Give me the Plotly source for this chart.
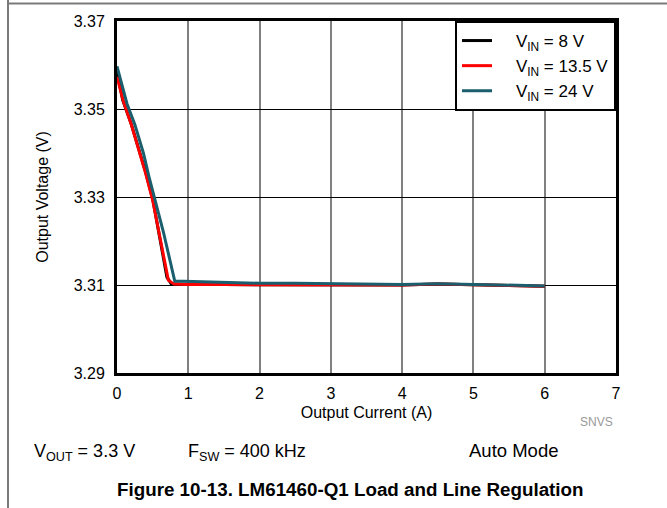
import plotly.graph_objects as go

# Data
x_8v = [0, 0.08, 0.2, 0.3, 0.4, 0.5, 0.6, 0.7, 0.76, 1, 1.5, 2, 2.5, 3, 3.5, 4, 4.5, 5, 5.5, 6]
y_8v = [3.3585, 3.3520, 3.3466, 3.3412, 3.3357, 3.3296, 3.3210, 3.3118, 3.3103, 3.3101, 3.3101, 3.3101, 3.3101, 3.3101, 3.3101, 3.3100, 3.3102, 3.3101, 3.3099, 3.3097]

x_135v = [0, 0.085, 0.2, 0.3, 0.4, 0.5, 0.6, 0.72, 0.8, 1, 1.5, 2, 2.5, 3, 3.5, 4, 4.5, 5, 5.5, 6]
y_135v = [3.3573, 3.3520, 3.3465, 3.3410, 3.3355, 3.3293, 3.3210, 3.3111, 3.3102, 3.3101, 3.3101, 3.3101, 3.3101, 3.3101, 3.3101, 3.3100, 3.3102, 3.3101, 3.3099, 3.3097]

x_24v = [0, 0.14, 0.25, 0.37, 0.45, 0.53, 0.65, 0.81, 1, 1.5, 2, 2.5, 3, 3.5, 4, 4.5, 5, 5.5, 6]
y_24v = [3.3597, 3.3512, 3.3465, 3.3400, 3.3345, 3.3293, 3.3221, 3.3109, 3.3108, 3.3106, 3.3104, 3.3104, 3.3103, 3.3103, 3.3101, 3.3103, 3.3101, 3.3099, 3.3098]

series_names = ["V<sub>IN</sub> = 8 V", "V<sub>IN</sub> = 13.5 V", "V<sub>IN</sub> = 24 V"]
series_colors = ["#000000", "#FF0000", "#1B5E6E"]

x_ticks = [0, 1, 2, 3, 4, 5, 6, 7]
y_ticks = [3.29, 3.31, 3.33, 3.35, 3.37]
y_tick_labels = ["3.29", "3.31", "3.33", "3.35", "3.37"]

FONT = "Liberation Sans, Arial, Helvetica, sans-serif"

fig = go.Figure()
for xs, ys, name, col in zip([x_8v, x_135v, x_24v], [y_8v, y_135v, y_24v], series_names, series_colors):
    fig.add_trace(go.Scatter(x=xs, y=ys, mode="lines", name="&nbsp;&nbsp;&nbsp;&nbsp;" + name,
                             line=dict(color=col, width=3)))

W, H = 667, 508
L, R, T, B = 117, 51, 21, 135
pw, ph = W - L - R, H - T - B

def px(xp):
    return (xp - L) / pw

def py(yp):
    return 1 - (yp - T) / ph

fig.update_layout(
    width=W, height=H,
    margin=dict(l=L, r=R, t=T, b=B),
    paper_bgcolor="white", plot_bgcolor="white",
    font=dict(family=FONT, size=16, color="black"),
    showlegend=True,
    legend=dict(x=1, y=1, xanchor="right", yanchor="top",
                bgcolor="white", bordercolor="black", borderwidth=2,
                font=dict(size=17), tracegroupgap=0, itemwidth=30,
                traceorder="normal"),
    xaxis=dict(range=[0, 7], tickvals=x_ticks, showgrid=True, gridcolor="#808080", gridwidth=1.5,
               showline=True, linecolor="black", linewidth=3, mirror=True, zeroline=False,
               ticks="", tickfont=dict(size=16), ticklabelstandoff=4,
               title=dict(text="Output Current (A)", font=dict(size=16), standoff=6)),
    yaxis=dict(range=[3.29, 3.37], tickvals=y_ticks, ticktext=y_tick_labels,
               showgrid=True, gridcolor="black", gridwidth=1,
               showline=True, linecolor="black", linewidth=3, mirror=True, zeroline=False,
               ticks="", tickfont=dict(size=16), ticklabelstandoff=6,
               title=dict(text="Output Voltage (V)", font=dict(size=16), standoff=22)),
)

# page frame lines
fig.add_shape(type="line", xref="paper", yref="paper", x0=px(8), x1=px(667), y0=py(3.5), y1=py(3.5),
              line=dict(color="#7a7a7a", width=2), layer="above")
fig.add_shape(type="line", xref="paper", yref="paper", x0=px(8), x1=px(8), y0=py(0), y1=py(508),
              line=dict(color="#7a7a7a", width=2), layer="above")

def ann(text, x, y, size, xanchor="left", color="black", bold=False):
    if bold:
        text = "<b>" + text + "</b>"
    fig.add_annotation(text=text, xref="paper", yref="paper", x=px(x), y=py(y),
                       xanchor=xanchor, yanchor="middle", showarrow=False,
                       font=dict(family=FONT, size=size, color=color))

ann("SNVS", 615, 422, 12, xanchor="right", color="#999999")
ann("V<sub>OUT</sub> = 3.3 V", 32, 452, 18)
ann("F<sub>SW</sub> = 400 kHz", 186, 452, 18)
ann("Auto Mode", 467, 450, 18.5)
ann("Figure 10-13. LM61460-Q1 Load and Line Regulation", 350, 490, 18.8, xanchor="center", bold=True)

fig.write_html("out.html", config={"displayModeBar": False},
               post_script="document.body.style.margin='0';document.body.style.padding='0';")
